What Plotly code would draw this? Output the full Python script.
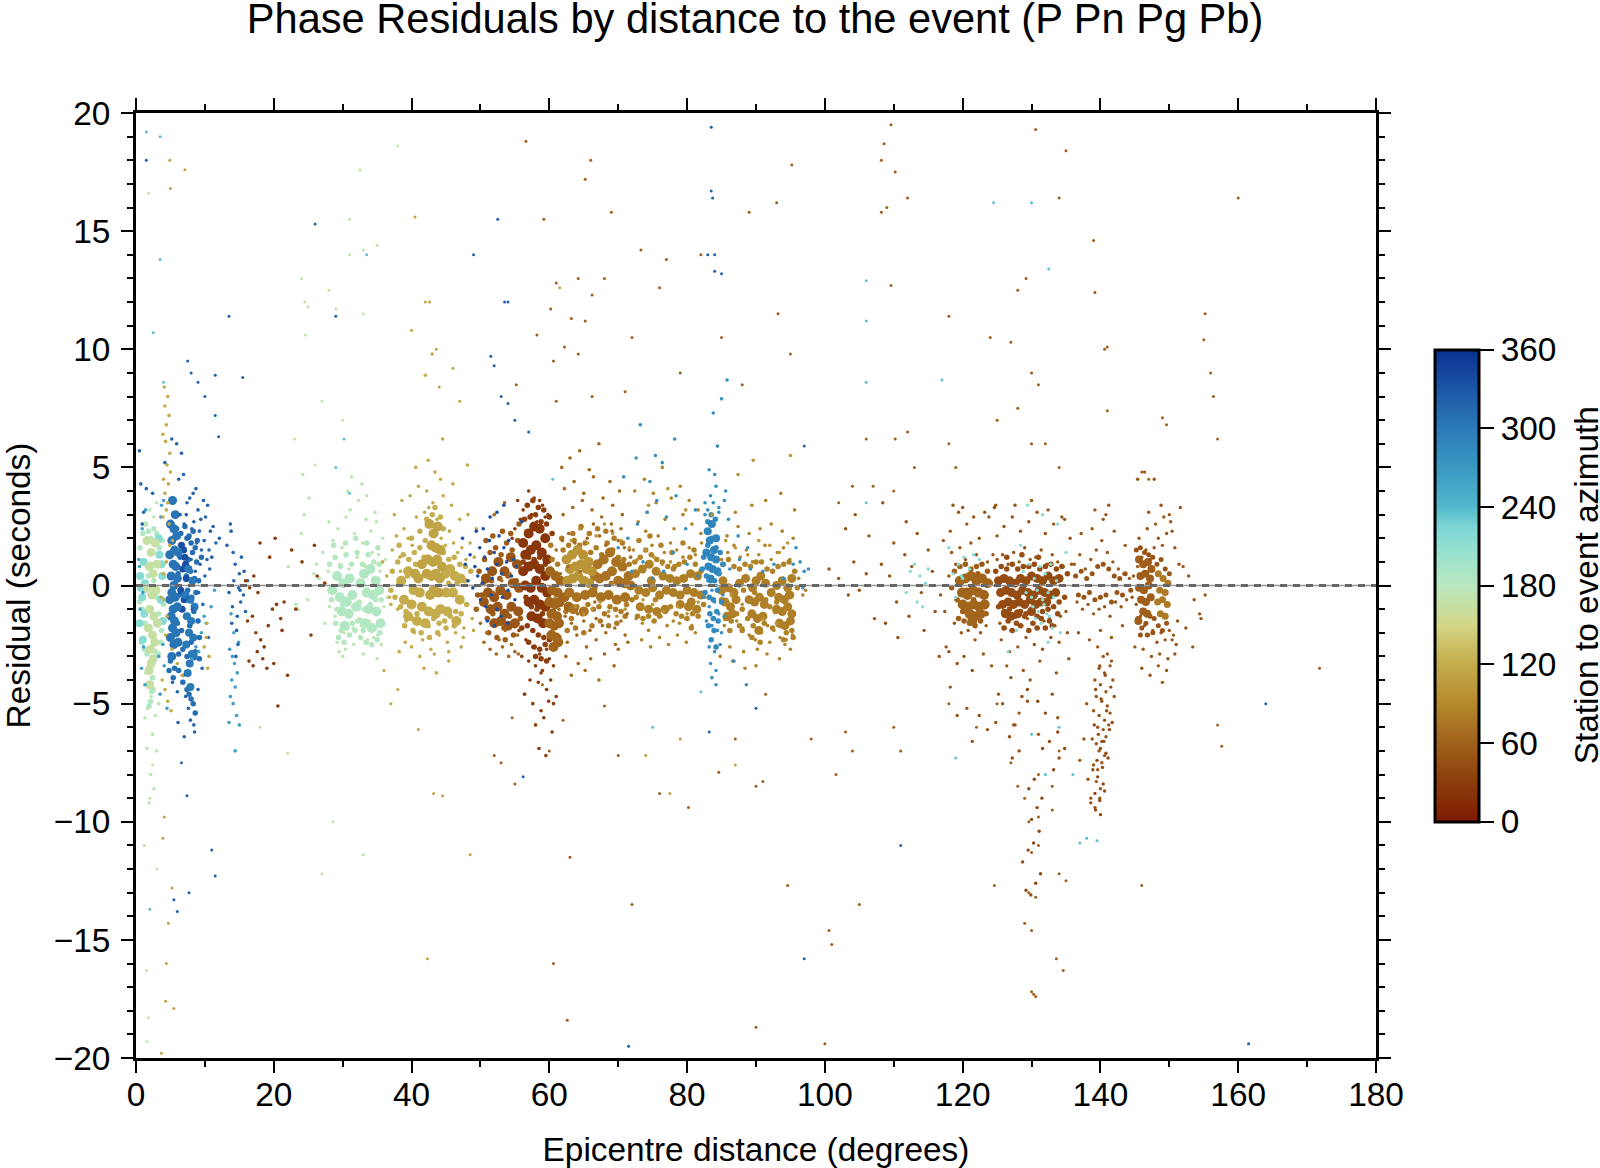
import plotly.graph_objects as go

# Azimuth colour ramp
ramp = [[0,"#7e1a02"],[0.083,"#8c3e0c"],[0.167,"#a0621b"],[0.25,"#b58a2c"],[0.333,"#c4ac4c"],
        [0.417,"#d3d687"],[0.5,"#b8e8c0"],[0.583,"#90e0d2"],[0.625,"#7bd5d5"],[0.667,"#52b6cc"],
        [0.75,"#3a98c2"],[0.833,"#2a7ab8"],[0.917,"#1c55a5"],[1,"#0a3090"]]

# ---- dense cores: distance, residual
c_pale_x=[1.6,2.2,2.8,1.9,2.5,3.0,1.7,2.3,2.9,2.0,2.6,1.8,2.4,3.1,2.1,2.7,2.2,1.9,2.5,2.0]
c_pale_y=[1.9,1.4,1.8,0.8,0.5,0.9,-0.1,-0.4,-0.2,-1.0,-1.3,-1.8,-2.1,-1.6,-2.7,-2.4,-3.3,-3.6,-3.1,-4.2]
c_teal_x=[0.6,1.1,3.4,3.8,0.9,3.6,1.2,0.5,3.9,3.3,1.0,0.7,3.7,1.3]
c_teal_y=[0.4,1.0,1.3,0.4,-0.5,-0.6,-1.2,-1.6,-1.5,2.0,-2.3,-0.1,0.9,0.1]
c_b1_x=[5.3,5.7,5.0,5.5,5.9,5.2,5.6,6.1,4.9,5.4,5.8,5.1,6.0,5.5,5.2,5.7,4.9,5.4,6.0,5.1,5.6,5.3,5.8,5.0,5.5,6.1,5.2]
c_b1_y=[3.6,3.0,2.6,2.4,2.1,1.9,1.5,1.4,1.3,0.9,0.8,0.4,0.3,0.0,-0.3,-0.5,-0.6,-1.0,-0.9,-1.3,-1.5,-1.8,-2.0,-2.2,-2.5,-2.4,-3.0]
c_b2_x=[7.6,8.2,7.2,7.9,8.5,7.4,8.0,7.7,8.3,7.3,8.1,7.8,7.5,8.4,7.9]
c_b2_y=[0.7,0.2,-0.4,-0.6,-0.9,-1.3,-1.5,-2.0,-2.2,-2.5,-2.9,-3.3,-3.7,-3.0,-4.3]
c_b3_x=[6.6,7.1,6.8,7.3,6.5,7.0,6.7,7.2,6.9]
c_b3_y=[1.7,1.2,0.7,0.3,-0.2,-0.6,-1.0,0.9,1.5]
c_h_x=[29.2,30.1,31.0,29.6,30.6,31.4,29.9,30.9,32.0,30.3,33.1,34.0,34.8,33.5,34.4,35.3,33.8,34.9,35.5,28.5,32.6,33.2,34.2]
c_h_y=[0.4,0.1,0.3,-0.5,-0.7,-0.4,-1.1,-1.2,-0.9,-1.7,0.5,0.7,0.2,-0.3,-0.4,-0.2,-1.0,-1.1,-1.6,-0.2,0.1,-1.6,-1.8]
c_i1_x=[42.6,43.2,43.8,42.9,43.5,44.2,42.4,43.1,43.7,44.4,42.2,42.9,43.5,44.1,43.2,42.7,43.9,41.5,41.0,40.5]
c_i1_y=[2.6,2.2,2.5,1.7,1.6,1.5,1.1,1.0,1.1,0.8,0.5,0.4,0.5,0.3,-0.2,-0.4,-0.3,0.9,0.3,0.5]
c_i2_x=[38.5,39.5,40.3,41.2,44.9,45.6,46.3,47.1,38.9,40.0,41.5,42.5,45.0,46.0,47.0,39.5,40.8,42.0,43.5,45.2,46.5,44.2]
c_i2_y=[0.2,0.6,-0.2,-0.3,0.5,0.7,0.4,0.3,-0.6,-0.8,-0.9,-1.1,-0.3,-0.3,-0.6,-1.3,-1.5,-1.6,-1.2,-1.1,-1.5,-1.0]
c_j1_x=[50.8,51.7,52.6,53.5,54.4,55.3,51.1,52.0,52.9,53.8,54.7,55.6,50.5,51.5,52.5,53.5,54.5,55.5,52.0,53.0,54.0,55.0]
c_j1_y=[0.3,0.6,1.0,0.6,1.2,0.9,-0.3,-0.5,-0.2,-0.4,0.1,-0.1,-0.7,-1.0,-0.9,-1.2,-0.9,-1.1,-1.6,-1.5,-1.7,-1.6]
c_j2_x=[56.2,57.0,57.8,58.6,59.4,56.5,57.3,58.1,58.9,59.7,56.2,57.0,57.8,58.6,59.4,56.5,57.3,58.1,58.9,59.7,57.0,57.8,58.6,59.4,57.4,58.3,59.1]
c_j2_y=[1.8,2.2,2.5,2.4,2.0,1.3,1.5,1.7,1.4,1.1,0.6,0.8,0.9,0.7,0.4,0.0,-0.1,0.2,-0.1,-0.3,-0.7,-0.6,-0.8,-0.9,-1.3,-1.4,-1.6]
c_j3_x=[60.1,60.9,61.6,60.4,61.2,60.0,60.8,61.5,60.3,61.1,60.0,60.7,61.4,60.3,61.0,60.6,61.3,62.2,62.8]
c_j3_y=[0.6,0.4,0.2,-0.2,-0.3,-0.7,-0.8,-0.7,-1.2,-1.3,-1.6,-1.7,-1.6,-2.1,-2.2,-2.6,-2.4,-0.5,-0.9]
c_k1_x=[62.5,63.3,64.1,64.9,65.7,63.0,63.8,64.6,65.4,66.2,62.6,63.4,64.2,65.0,65.8]
c_k1_y=[1.1,1.3,1.5,1.3,1.0,0.7,0.8,0.9,0.7,0.6,0.2,0.3,0.4,0.2,0.1]
c_k2_x=[67.0,67.9,68.8,69.7,70.6,71.5,67.3,68.2,69.1,70.0,70.9,71.8,62.9,64.0,65.2,66.3,67.5,68.6,69.8,71.0,66.6,63.5,65.0]
c_k2_y=[0.9,1.1,1.4,1.0,0.8,0.4,0.3,0.4,0.6,0.2,0.1,0.0,-0.3,-0.5,-0.4,-0.3,-0.5,-0.4,-0.6,-0.5,0.4,-1.0,-1.1]
c_l_x=[72.5,73.5,74.5,75.5,76.5,77.5,78.5,79.5,80.5,81.5,73.0,74.0,75.0,76.0,77.0,78.0,79.0,80.0,81.0,82.0,73.2,74.4,75.6,76.8,79.0,80.2,81.4,74.8,80.6]
c_l_y=[0.5,0.7,0.9,0.6,0.4,0.3,0.2,0.3,0.5,0.4,-0.2,-0.3,-0.1,-0.4,-0.2,-0.3,-0.4,-0.2,-0.3,-0.4,-0.9,-1.0,-1.1,-1.0,-0.8,-0.9,-1.0,0.2,-0.7]
c_m_x=[83.0,83.6,84.2,83.3,83.9,82.8,83.5,84.2,83.1,83.7,84.4,83.4]
c_m_y=[2.3,2.6,2.0,1.9,1.5,1.4,1.2,1.1,0.8,0.7,0.6,0.3]
c_n_x=[85.2,86.0,86.8,87.6,85.5,86.3,87.1,85.0,85.8,86.6,88.5,89.5,90.0,90.7,91.4,89.0,89.8,90.5,91.2,89.4,90.2,91.0,90.4,93.0,93.8,94.6,95.2,93.3,94.1,94.9,93.0,93.8,94.6,95.2,93.4,94.2,95.0,92.2]
c_n_y=[0.2,-0.1,-0.3,0.1,-0.7,-0.9,-0.6,-0.2,-1.3,-1.2,0.3,-0.1,0.2,0.4,0.1,-0.6,-0.7,-0.5,-0.8,-1.2,-1.4,-1.3,-1.9,0.0,0.2,-0.1,0.3,-0.5,-0.6,-0.4,-1.0,-1.1,-0.9,-1.2,-1.6,-1.7,-1.5,-0.3]
c_p_x=[119.6,120.4,121.2,122.0,122.8,123.6,119.9,120.7,121.5,122.3,123.1,120.0,120.8,121.6,122.4,123.2,121.0,121.8,122.6,121.4]
c_p_y=[0.2,0.3,0.4,0.2,0.3,0.1,-0.3,-0.4,-0.2,-0.3,-0.4,-0.8,-0.9,-0.8,-0.9,-0.8,-1.2,-1.3,-1.2,-1.5]
c_q_x=[125.2,126.0,126.8,127.6,128.4,129.2,130.0,130.8,131.6,132.4,133.2,134.0,125.5,126.3,127.1,127.9,128.7,129.5,130.3,131.1,131.9,132.7,133.5,125.8,126.6,127.4,128.2,129.0,129.8,130.6,131.4,132.2,126.2,127.0,128.0,130.0]
c_q_y=[0.2,0.3,0.2,0.1,0.3,0.2,0.4,0.3,0.2,0.4,0.2,0.3,-0.3,-0.2,-0.3,-0.4,-0.2,-0.3,-0.4,-0.2,-0.3,-0.4,-0.3,-0.8,-0.7,-0.8,-0.7,-0.8,-0.6,-0.8,-0.7,-0.7,-1.2,-1.3,-1.2,-1.1]
c_r_x=[145.6,146.2,146.9,147.4,145.8,146.5,147.2,145.6,146.3,147.0,145.9,146.6,147.3,146.2,146.8,145.5]
c_r_y=[1.1,0.9,1.0,0.7,0.4,0.5,0.3,-0.1,-0.2,0.0,-0.6,-0.7,-0.5,-1.1,-1.2,-1.5]
c_s_x=[148.4,149.1,149.8,148.6,149.4,148.3,149.0,149.7,148.7,149.4]
c_s_y=[0.5,0.3,0.1,-0.2,-0.3,-0.7,-0.6,-0.8,-1.2,-1.3]

# ---- thick halos round the cores
m_blue_x=[5.0,5.6,6.2,6.8,7.4,8.0,8.6,9.2,4.8,5.4,6.0,6.6,7.2,7.8,8.4,9.0,6.3,6.9,7.5,8.1,8.7,6.1,6.7,7.3,7.9,8.5,9.1,6.4,7.0,7.6,8.2,8.8,7.4,8.0,8.6,7.7,8.3,5.9,6.5,7.1,7.7,8.3,8.9,9.5,6.2,6.8,7.4,8.0,8.6,9.2]
m_blue_y=[-3.2,-3.5,-2.9,-2.7,-3.0,-2.4,-2.8,-2.2,-3.6,-3.9,-1.6,-1.9,-1.3,-1.7,-1.1,-1.5,-0.4,-0.6,-0.2,-0.5,-0.3,0.5,0.7,0.4,0.6,0.3,0.2,1.2,1.5,1.1,1.4,1.0,2.0,1.8,1.6,-4.6,-5.0,2.4,2.2,2.5,2.1,2.3,1.9,1.2,-3.6,-4.1,-4.4,-4.8,-5.4,-3.1]
m_pale_x=[0.6,1.0,1.4,1.8,2.2,2.6,3.0,3.4,3.8,0.8,1.2,1.6,2.0,2.4,2.8,3.2,3.6,4.0,1.4,1.8,2.2,2.6,3.0,0.5,0.9,1.3,3.3,3.7,1.7,2.3,2.1,1.9,2.5]
m_pale_y=[1.6,2.2,2.6,2.3,2.0,2.4,2.2,1.6,1.9,-2.4,-2.7,-2.9,-3.4,-3.9,-2.8,-2.9,-2.4,-0.8,-0.2,0.4,0.9,0.2,-0.5,-0.7,-1.0,-1.6,-1.2,-1.9,-4.2,-4.5,-4.9,-5.1,-4.4]
m_h_x=[28.1,28.9,29.7,30.5,31.3,32.1,32.9,33.7,34.5,35.3,28.4,29.2,30.0,30.8,31.6,32.4,33.2,34.0,34.8,35.6,29.0,29.8,30.6,31.4,32.2,33.0,33.8,34.6,35.4,29.4,30.2,31.0,31.8,32.6,33.4,34.2,35.0,28.7,30.4,31.9,33.5,35.1]
m_h_y=[0.9,1.2,0.8,1.3,0.9,1.4,0.9,1.3,1.0,0.9,-0.6,-1.0,-0.8,-0.6,-0.9,-0.7,-1.0,-0.8,-0.6,-0.6,-1.6,-1.9,-1.8,-1.6,-1.5,-1.9,-1.7,-1.8,-2.0,-2.2,-2.4,-2.1,-1.9,-2.2,-2.4,-2.5,-2.3,1.7,1.8,2.0,1.8,1.6]
m_i_x=[37.2,38.0,38.8,39.6,40.4,41.2,42.0,44.6,45.4,46.2,47.0,47.8,48.6,37.6,38.4,39.2,40.0,40.8,41.6,42.4,43.2,44.0,44.8,45.6,46.4,47.2,48.0,38.2,39.4,40.6,41.8,43.0,44.2,45.4,46.6,47.8,39.0,40.2,41.4,42.6,43.8,45.0,46.2,40.0,41.2,42.2,43.4,44.6,38.2,37.0]
m_i_y=[0.6,1.0,1.3,1.1,1.4,1.6,1.9,1.4,1.1,1.2,0.9,0.8,0.6,-0.5,-0.9,-1.1,-1.4,-1.2,-1.6,-1.7,-1.4,-1.6,-1.5,-1.3,-1.1,-1.2,-0.8,0.1,0.4,0.9,1.2,3.0,2.9,0.1,0.1,0.2,-1.7,-1.9,-2.0,-2.2,-2.0,-1.8,-1.7,2.0,2.3,2.8,3.3,2.4,1.7,-0.2]
m_j_x=[49.8,50.6,51.4,52.2,53.0,53.8,54.6,55.4,50.2,51.0,51.8,52.6,53.4,54.2,55.0,55.8,50.4,51.6,52.8,54.0,55.2,51.2,52.4,53.6,54.8,51.8,53.2,54.4,55.6,50.8,49.6,49.4]
m_j_y=[0.6,1.1,1.4,1.6,1.3,1.8,1.5,1.9,-0.4,-1.4,-1.2,-1.6,-1.8,-1.3,-1.7,-1.4,0.1,0.2,0.3,0.4,0.2,-2.0,-2.2,-2.3,-2.1,2.1,2.3,2.2,2.6,1.9,-0.4,-1.0]
m_d_x=[56.0,56.8,57.6,58.4,59.2,60.0,56.4,57.2,58.0,58.8,59.6,60.4,56.2,57.0,57.8,58.6,59.4,56.6,57.4,58.2,59.0,59.8,60.6,57.0,57.8,58.6,59.4,56.8,57.6,58.4,59.2,60.0,58.0,58.8,59.6]
m_d_y=[-1.8,-1.7,-1.9,-2.1,-2.2,-2.3,2.8,2.9,3.0,2.7,2.6,2.2,1.0,1.2,1.1,1.2,0.9,-0.5,-0.9,-1.0,-1.2,-0.9,-1.1,-2.4,-2.6,-2.7,-2.5,3.4,3.6,3.3,3.2,2.9,-3.0,-3.1,-3.2]
m_k_x=[60.4,61.2,62.0,62.8,63.6,64.4,65.2,66.0,66.8,67.6,68.4,69.2,70.0,70.8,71.6,60.8,61.6,62.4,63.2,64.0,64.8,65.6,66.4,67.2,68.0,68.8,69.6,70.4,71.2,72.0,61.4,62.6,63.8,65.0,66.2,67.4,68.6,69.8,71.0,63.4,64.6,65.8,67.0,68.2,69.4,70.6,60.2,61.8,66.6,69.0]
m_k_y=[1.1,0.9,1.5,1.7,1.9,1.7,1.8,1.4,1.6,1.3,1.8,1.5,1.2,1.1,0.9,-0.6,-0.8,-1.1,-1.4,-0.9,-1.2,-0.8,-1.0,-0.9,-1.2,-0.9,-1.0,-1.1,-0.8,-0.6,-2.2,-1.9,-1.8,-2.0,-1.7,-1.5,-1.7,-1.6,-1.3,2.2,2.5,2.2,2.4,2.3,2.0,1.8,1.7,2.0,-0.1,0.1]
m_l_x=[72.4,73.2,74.0,74.8,75.6,76.4,77.2,78.0,78.8,79.6,80.4,81.2,82.0,72.8,73.6,74.4,75.2,76.0,76.8,77.6,78.4,79.2,80.0,80.8,81.6,82.4,73.0,74.6,76.2,77.8,79.4,81.0,72.6,75.4,78.2,80.6]
m_l_y=[1.0,1.2,1.5,1.3,1.1,1.0,0.8,0.7,0.9,1.0,1.2,0.9,0.6,-1.3,-1.4,-1.3,-1.5,-1.3,-1.1,-0.9,-1.2,-1.3,-1.4,-1.2,-1.3,-0.8,1.9,2.1,1.7,1.4,1.8,1.5,-0.5,-0.6,0.8,-1.8]
m_c_x=[82.4,83.0,83.6,84.2,84.8,82.2,82.8,83.4,84.0,84.6,85.2,82.6,83.2,83.8,84.4,85.0,83.5,84.1,83.0,83.3,83.8,84.3,83.1,83.9,84.5,83.5,84.2]
m_c_y=[1.2,1.7,2.0,1.6,1.4,0.7,0.4,0.2,0.2,0.5,0.9,-0.3,-0.5,-0.6,-0.2,-0.7,3.0,2.8,2.7,-1.2,-1.4,-1.1,-1.7,-1.9,-1.5,-2.3,-2.6]
m_n_x=[85.2,86.0,86.8,87.6,88.4,89.2,90.0,90.8,91.6,92.4,93.2,94.0,94.8,95.6,85.6,86.4,87.2,88.0,88.8,89.6,90.4,91.2,92.0,92.8,93.6,94.4,95.2,85.0,86.6,88.2,89.8,91.4,93.0,94.6,88.0,89.4,90.6,92.4,94.0,95.4,96.0,86.2,87.6]
m_n_y=[0.9,1.1,0.8,0.7,0.9,0.8,1.0,1.0,0.7,0.6,0.8,0.9,1.0,0.6,-1.4,-1.5,-1.2,-1.0,-1.4,-1.7,-1.9,-1.6,-0.9,-1.1,-1.7,-2.0,-1.9,-0.6,-0.4,-0.2,-0.3,-0.6,-0.7,-0.4,-1.9,-2.2,-2.4,-1.8,-2.3,-2.2,-0.1,-1.9,-1.7]
m_p_x=[118.8,119.6,120.4,121.2,122.0,122.8,123.6,119.2,120.0,120.8,121.6,122.4,123.2,120.2,121.0,121.8,122.6,119.4,120.6,122.2,123.4,124.0,118.4]
m_p_y=[0.6,0.8,0.9,0.7,0.8,0.9,0.6,-0.6,-1.1,-1.0,-0.6,-1.1,-0.9,-1.5,-1.6,-1.7,-1.5,-1.4,-0.2,0.5,-1.2,0.1,-0.1]
m_q_x=[124.8,125.6,126.4,127.2,128.0,128.8,129.6,130.4,131.2,132.0,132.8,133.6,134.4,135.2,125.2,126.0,126.8,127.6,128.4,129.2,130.0,130.8,131.6,132.4,133.2,134.0,134.8,125.4,126.6,127.8,129.0,130.2,131.4,132.6,133.8,126.0,127.2,128.4,129.6,130.8,132.0,133.0,126.4,128.6,131.0]
m_q_y=[0.6,0.8,0.7,0.9,0.7,0.8,0.8,0.9,0.7,0.8,0.9,0.7,0.8,0.5,-0.9,-1.1,-1.0,-1.3,-1.1,-1.2,-1.0,-1.3,-1.1,-1.0,-0.9,-0.7,-0.5,-0.3,-1.5,-1.6,-1.3,-1.6,-1.4,-1.5,-1.2,-1.8,-1.9,-1.7,-1.9,-1.8,-1.8,-1.7,1.2,1.3,1.2]
m_e_x=[136.4,137.2,138.0,138.8,139.6,140.4,141.2,142.0,142.8,143.6,136.8,137.6,138.4,139.2,140.0,140.8,141.6,142.4,143.2,144.4,145.2,145.8,146.4,147.0,147.6,148.2,148.8,149.4,150.0,145.4,146.0,146.6,147.2,147.8,148.4,149.0,149.6,145.8,146.8,147.6]
m_e_y=[0.4,0.6,0.3,0.5,0.8,0.9,0.7,0.4,0.3,0.5,-0.4,-0.5,-0.3,-0.6,-0.5,-0.4,-0.7,-0.3,-0.4,-0.2,1.5,1.6,1.4,1.3,1.2,0.9,1.1,0.7,0.5,-1.4,-1.8,-1.6,-1.3,-1.4,-1.7,-1.9,-1.6,-2.1,-2.1,-2.0]

# ---- individual scattered stations
d_blue_x=[0.5,0.7,1.5,2.4,1.1,0.9,4.2,5.2,6.2,6.9,7.4,7.8,8.3,8.7,9.0,9.4,9.8,10.1,10.4,10.8,11.2,11.6,12.1,6.4,7.0,7.7,8.4,9.2,9.9,10.6,5.9,6.6,7.3,8.1,8.8,9.5,10.3,11.0,8.0,8.6,9.3,10.0,10.7,7.5,8.2,9.1,9.7,6.1,7.2,5.3,6.0,6.9,7.6,8.4,9.0,9.6,10.5,7.0,7.9,8.5,13.2,13.8,14.4,15.0,15.6,14.0,14.7,15.3,13.5,14.2,14.9,15.7,13.9,14.6,15.2,15.9,16.2,14.1,13.7,15.1,14.8,14.5]
d_blue_y=[5.7,4.3,4.1,3.9,3.1,2.6,5.2,6.2,4.5,4.7,3.5,3.7,3.9,4.1,3.2,2.8,3.6,2.9,3.4,2.3,2.5,1.8,2.0,3.0,2.6,2.0,2.7,2.3,1.9,1.5,6.0,5.6,3.0,2.4,1.8,1.5,1.1,1.2,1.1,0.6,0.9,0.4,0.7,-0.5,-1.0,-0.3,-0.8,-5.8,-4.7,-4.1,-4.5,-3.8,-5.2,-5.9,-4.4,-3.5,-2.2,-6.4,-5.7,-6.2,1.7,2.3,0.9,0.5,-0.4,-0.9,-1.3,1.2,-0.3,0.2,-0.1,0.6,-1.6,-1.9,-0.7,-1.1,0.2,1.4,2.6,-0.2,-2.5,-3.0]
d_cyan_x=[0.4,0.9,1.4,3.6,4.0,0.6,1.1,3.3,3.9,0.8,1.3,4.1,3.5,0.5,1.0,3.7,13.6,14.0,14.3,14.7,13.9,14.4,13.7,14.1,14.6,15.0,14.2,14.9,13.8,13.5,14.4,4.5,8.7,9.5,10.2,8.1,9.1,10.9,9.9,11.4]
d_cyan_y=[1.1,2.4,3.2,2.9,3.6,-1.0,-2.6,-3.0,-2.5,-3.5,-4.2,-3.4,-4.6,0.8,-0.3,3.4,-2.7,-3.0,-3.3,-3.7,-4.0,-4.3,-4.7,-5.0,-5.5,-5.9,-2.0,-2.4,-1.2,-5.8,-7.0,-5.2,-2.6,-2.0,-1.6,-3.1,-2.8,-0.9,-1.3,-0.2]
d_lpale_x=[1.5,2.0,2.6,3.0,2.2,1.7,2.8,1.3,3.3,2.4,1.6,2.1,3.0,2.6,1.9,1.4,22.1,22.6,24.0,24.4,25.1,24.2,23.5,26.2,27.1,27.9,28.3,28.6,29.3,29.9,30.5,31.1,31.7,32.3,32.9,33.4,34.1,34.7,35.2,35.8,36.2,28.9,30.2,31.5,32.7,33.6,34.5,35.6,28.1,29.2,30.4,31.6,32.5,33.9,35.1,36.0,29.6,30.9,32.1,33.3,34.3,35.4,30.7,31.3,32.8,33.5,34.9,27.4,26.6,25.8,24.9,23.2,36.5,35.0,33.0,30.0,29.5,28.0]
d_lpale_y=[2.6,3.2,2.9,3.5,-4.7,-5.2,-5.5,-5.6,-5.0,-6.3,-6.9,-8.0,-7.0,-8.6,-9.2,-3.7,0.8,1.5,2.2,3.0,3.7,4.7,-1.0,0.9,1.4,0.6,-0.3,1.9,2.4,1.6,2.9,3.2,2.2,3.6,1.8,2.8,2.3,3.1,1.3,2.0,1.1,-1.3,-2.0,-1.8,-1.7,-2.3,-2.2,-2.5,-0.9,-2.4,-2.7,-2.5,-1.4,-1.5,-2.1,-0.9,0.9,0.7,1.2,0.8,1.4,0.6,4.0,4.6,4.3,3.8,2.7,-1.6,0.3,0.5,-0.6,-0.8,-0.5,-3.1,-2.9,-3.0,-2.8,2.7]
d_tan_x=[4.1,4.6,4.2,4.8,4.4,3.9,4.3,4.9,4.5,5.0,4.0,4.7,4.2,4.6,4.4,3.9,4.8,4.1,4.5,4.3,5.2,6.0,6.7,9.9,10.6,3.8,4.2,4.6,5.1,3.6,4.0,4.4,4.9,5.3,10.3,10.4,10.2,37.2,37.8,38.3,38.9,39.5,40.1,40.7,41.3,41.9,42.5,43.1,43.7,44.3,44.9,45.5,46.1,46.7,47.3,47.9,48.5,49.1,37.5,38.6,39.8,41.0,42.2,43.4,44.6,45.8,47.0,48.2,49.4,38.0,39.2,40.4,41.6,42.8,44.0,45.2,46.4,47.6,48.8,36.8,39.1,41.2,43.3,45.4,47.5,36.4,38.2,40.0,41.8,43.6,45.4,47.2,49.0,40.6,42.4,44.2,46.0,48.1,35.8,37.0,38.4,42.0,43.0,44.5]
d_tan_y=[8.4,8.0,7.6,7.2,6.8,6.4,6.1,5.6,5.1,4.8,4.5,4.3,3.9,3.5,3.2,2.9,2.6,-0.6,-1.3,-2.1,-2.7,-3.3,-3.8,-2.6,-3.0,-4.0,-4.4,-4.9,-5.3,-0.5,0.5,1.0,1.7,1.9,-1.6,-3.5,-2.2,1.5,2.1,1.2,2.4,2.0,1.7,2.9,2.3,3.1,3.3,3.5,2.8,2.0,1.7,2.3,1.8,1.4,1.6,1.1,1.8,1.2,3.0,3.6,3.8,4.2,4.0,4.8,3.8,3.4,2.8,3.0,2.4,-1.0,-1.5,-2.0,-2.3,-2.7,-2.1,-2.4,-2.0,-1.8,-1.4,-0.5,-2.4,-3.0,-2.9,-2.8,-2.2,0.4,-2.8,-2.6,-3.5,-3.7,-3.2,-2.6,-1.9,5.0,5.3,4.5,4.3,5.1,1.0,-0.8,0.6,8.9,9.8,6.2]
d_blue2_x=[47.8,48.5,49.2,49.9,50.6,51.3,52.0,52.7,53.4,54.1,54.8,48.2,48.9,49.6,50.3,51.0,51.7,52.4,53.1,53.8,54.5,55.2,50.0,50.8,51.6,52.4,53.2,54.0,51.0,52.0,53.0,54.0,55.0,56.0,50.4,51.4,52.4,53.4,49.4,47.4]
d_blue2_y=[0.9,1.3,0.8,1.6,1.2,1.9,1.4,2.1,1.6,1.9,1.1,0.2,-0.1,0.4,0.1,0.7,0.3,0.9,0.5,1.0,0.4,0.8,-0.6,-0.9,-0.4,-1.0,-0.5,-0.2,-1.5,-1.7,-1.3,-1.6,-0.6,2.7,2.4,2.9,3.1,3.4,2.3,2.0]
d_red_x=[15.9,16.5,17.1,17.7,16.2,16.9,17.4,18.1,18.6,19.2,19.8,20.4,21.0,21.5,16.4,17.0,17.6,18.4,19.0,20.0,20.6,21.2,22.0,23.2,25.4,26.3,27.4,18.0,19.4,20.2,22.6,24.1,25.9,55.0,55.8,56.6,57.4,58.2,59.0,59.8,55.4,56.2,57.0,57.8,58.6,59.4,54.6,55.6,56.6,57.6,58.6,59.6,56.0,57.0,58.0,59.0,60.0,60.6,57.2,58.4,59.6,56.4,57.6,58.8,60.2,61.0,58.0,59.2,60.4,58.5,59.5,60.6,58.8,59.9]
d_red_y=[0.2,-0.1,0.4,-0.3,-1.5,-1.3,-2.0,-2.3,-2.6,-1.7,-1.0,-0.8,-1.4,-0.7,-3.2,-3.4,-2.8,-3.1,-3.5,-3.3,-5.1,-1.9,-3.8,-1.0,-2.1,0.4,0.1,1.8,1.2,2.0,1.5,1.0,1.7,2.4,2.8,2.3,3.0,2.7,3.4,3.0,3.6,3.2,4.0,3.7,3.6,2.9,2.0,-1.9,-2.3,-2.6,-2.9,-2.7,-3.0,-3.2,-3.4,-3.6,-3.1,-3.4,-4.0,-4.1,-4.4,-4.6,-5.0,-5.3,-4.0,-4.7,-5.9,-5.6,-6.2,-6.9,-7.2,-5.0,-3.7,-4.9]
d_br_x=[50.0,50.9,51.8,52.7,53.6,54.5,55.4,50.5,51.4,52.3,53.2,54.1,55.0,49.5,50.7,51.9,53.1,54.3,52.0,53.5,55.5,61.0,61.9,62.8,63.7,64.6,65.5,66.4,67.3,68.2,69.1,70.0,70.9,71.8,61.4,62.3,63.2,64.1,65.0,65.9,66.8,67.7,68.6,69.5,70.4,71.3,62.0,63.4,64.8,66.2,67.6,69.0,70.4,61.2,62.6,64.0,65.4,66.8,68.2,69.6,71.0,62.2,63.6,65.0,66.4,67.8,69.2,70.6,61.8,63.0,64.4,65.8,67.2,68.8,70.2,71.6,62.4,64.2,66.0,68.0,70.0,63.2,65.2,67.2,69.4,71.4,61.6,62.7,64.5,66.6]
d_br_y=[-1.6,-2.0,-1.7,-2.3,-1.9,-2.5,-2.1,-2.4,-2.7,-2.9,-2.6,-3.0,-2.8,-1.0,-0.5,-0.3,0.2,0.5,3.0,3.5,-2.9,1.5,1.9,2.2,1.8,2.4,2.0,2.6,2.1,1.7,2.3,1.9,1.6,1.2,-1.0,-1.3,-1.6,-1.2,-1.5,-1.9,-1.4,-1.7,-1.3,-1.8,-1.5,-1.2,3.0,3.3,3.6,3.2,2.9,2.6,2.4,-2.2,-2.4,-2.1,-2.6,-2.3,-2.0,-2.5,-2.1,4.1,4.4,3.9,4.6,3.7,3.4,3.0,5.0,5.4,5.7,4.9,6.0,4.4,4.0,1.5,-3.0,-3.3,-3.1,-2.9,-2.7,-3.8,-3.6,-4.0,-3.4,-2.4,0.5,0.8,0.6,-0.7]
d_ol_x=[72.2,73.1,74.0,74.9,75.8,76.7,77.6,78.5,79.4,80.3,81.2,82.1,72.6,73.5,74.4,75.3,76.2,77.1,78.0,78.9,79.8,80.7,81.6,72.9,74.2,75.5,76.8,78.1,79.4,80.7,82.0,73.4,74.7,76.0,77.3,78.6,79.9,81.2,72.4,73.8,75.1,76.4,77.7,79.0,80.3,81.6,85.0,85.9,86.8,87.7,88.6,89.5,90.4,91.3,92.2,93.1,94.0,94.9,95.8,85.4,86.3,87.2,88.1,89.0,89.9,90.8,91.7,92.6,93.5,94.4,95.3,85.8,87.4,89.0,90.6,92.2,93.8,95.4,86.2,88.2,90.2,92.0,94.2,96.2,84.8,86.6,88.4,90.0,91.6,93.4,95.0,87.0,89.4,91.4,93.6,95.6,96.8,97.2]
d_ol_y=[1.5,1.9,2.3,1.7,2.1,1.4,1.8,1.5,1.2,1.6,1.3,1.8,-1.4,-1.6,-1.9,-1.5,-1.3,-1.7,-1.5,-1.6,-1.4,-1.7,-1.3,2.7,3.1,3.5,2.8,2.4,3.0,2.6,2.2,-2.3,-2.6,-2.2,-2.5,-2.1,-2.4,-2.0,4.0,4.5,3.9,5.0,3.7,4.2,3.6,3.2,1.1,1.4,1.7,1.2,1.5,1.0,1.3,1.7,1.1,1.4,1.6,1.1,0.6,-1.7,-1.9,-1.5,-1.8,-2.1,-2.3,-2.0,-1.7,-1.9,-2.2,-2.3,-2.1,2.1,2.5,2.2,2.4,2.6,2.3,2.0,-2.6,-2.8,-2.7,-2.4,-2.5,0.3,-3.0,-3.2,-3.5,-3.4,-2.9,-3.1,-2.7,3.1,3.4,3.6,3.9,3.2,-0.4,-0.2]
d_tan2_x=[63.2,64.4,65.6,66.8,68.0,69.2,70.4,71.6,72.8,74.0,75.2,76.4,77.6,63.8,65.0,66.2,67.4,68.6,69.8,71.0,73.6,75.0,76.6,78.6,80.0,81.6,82.6,85.6,87.0,88.8,90.4,92.0,93.4,94.6,86.4,88.0,91.0,93.0,74.4,77.2,79.8,83.6,87.4,89.6,95.0]
d_tan2_y=[1.9,2.4,1.8,2.1,2.6,2.2,1.9,1.6,1.1,1.5,1.2,0.9,1.0,-0.9,-1.2,-1.0,-0.7,-1.1,-1.3,-1.0,-0.6,-0.8,-1.1,-0.9,-1.2,-0.7,-0.5,1.9,1.6,1.3,1.9,1.7,1.4,1.8,-0.4,-0.8,-1.4,-1.6,3.4,4.1,3.2,3.0,4.7,5.3,5.5]
d_bl3_x=[70.0,71.4,72.8,74.2,75.6,77.0,78.4,79.8,81.2,82.6,84.6,86.0,87.4,88.8,72.0,73.6,75.0,76.6,78.0,80.0,81.6,82.2,83.0,83.6,84.2,84.8,85.4,82.4,83.2,84.0,84.6,85.2,82.8,83.6,84.4,85.0,83.2,84.0,84.8,83.4,84.2,85.4,86.2,87.6,89.2,91.0,92.6,94.0,95.4,96.4,97.0,97.6,96.8,95.8,83.0,83.8,84.6,85.4,82.6,83.4,84.2,85.6,84.0,83.2,72.6,74.6,76.4,78.2,70.8,73.2,75.4,86.8,88.6,84.4,83.8,85.0,85.8,84.2,83.6]
d_bl3_y=[1.6,2.0,2.6,3.1,3.6,2.9,3.8,2.4,3.2,3.5,3.3,2.8,2.1,1.6,0.6,1.0,0.3,0.6,1.4,0.9,0.4,0.7,0.2,-0.2,0.0,0.5,0.9,-0.5,-0.9,-0.7,-1.2,-0.4,-1.5,-1.7,-1.9,-2.0,-2.6,-2.8,-2.5,-3.3,-3.6,-1.3,0.7,1.1,0.7,0.6,0.9,0.3,0.9,1.0,0.6,0.7,-0.1,1.6,3.2,3.5,3.1,3.6,3.0,3.8,4.2,4.0,4.7,4.9,5.4,4.4,5.2,6.2,4.6,6.8,5.5,-3.2,-4.2,5.9,7.3,7.9,8.7,-4.2,-3.9]
d_sep_x=[100.6,102.0,103.4,104.2,105.0,106.0,107.2,108.2,109.4,110.4,111.6,112.6,114.0,115.6,116.8,118.0,103.0,104.4,106.4,108.4,110.0,111.8,113.4,115.0,117.2,108.8,110.6,112.2,114.4,116.0,117.6,118.4,119.0,119.6,120.4,121.2,122.0,122.8,123.6,124.4,118.8,119.8,120.8,121.8,122.6,123.4,118.2,119.4,120.6,122.4,123.8,124.8,118.0,119.2,120.2,121.4,123.0,124.2,117.4,118.6,120.0,121.6,123.2,116.6,125.0,125.8,126.6,127.4,128.2,129.0,129.8,130.6,131.4,132.2,133.0,133.8,134.6,125.4,126.2,127.0,127.8,128.6,129.4,130.2,131.0,131.8,132.6,133.4,134.2,135.0,135.8,125.0,126.0,127.2,128.4,129.6,130.8,132.0,133.2,134.4,135.6,125.6,126.8,128.0,129.2,130.4,131.6,132.8,134.0,135.2,124.6,127.6,130.0,132.4,134.8,126.4,128.8,131.2,133.6,129.8,127.0,125.8,129.4,133.0,135.4,124.8,128.2,131.0,125.2,127.4,133.8,122.4,123.6,120.6,121.4,119.2,118.2]
d_sep_y=[0.7,0.3,-0.4,1.0,-0.2,0.5,-1.4,0.9,0.4,-0.7,1.3,0.8,-0.3,0.6,-0.4,0.4,2.4,3.0,2.1,3.5,1.8,2.7,2.2,1.5,1.9,-1.6,-2.2,-1.3,-1.9,-1.1,-2.6,1.4,0.9,1.6,1.1,1.8,1.3,0.9,1.0,1.3,-1.6,-2.0,-1.9,-2.3,-2.0,-1.7,2.3,3.1,2.6,2.0,2.9,3.4,-2.8,-3.3,-3.0,-3.6,-2.9,-3.4,-1.1,3.4,3.3,2.9,3.1,-3.0,1.1,1.3,0.9,1.4,1.0,1.6,1.1,1.2,1.5,0.9,1.3,1.0,0.8,-1.6,-1.8,-1.9,-1.6,-1.7,-1.4,-1.6,-1.8,-1.5,-1.4,-1.7,-1.3,-1.1,0.9,2.1,2.5,2.9,2.3,2.7,3.1,2.2,2.6,2.9,2.0,-2.3,-2.8,-2.6,-2.2,-2.5,-2.7,-2.2,-2.4,-2.0,3.3,3.4,3.6,3.2,2.8,-3.4,-3.6,-3.2,-3.7,-4.0,-3.9,-5.0,-4.9,-4.6,-3.1,-5.8,-5.4,-6.3,-4.6,-5.9,-5.6,-5.5,-6.1,-5.2,-6.6,-5.5,-4.3]
d_east_x=[136.2,137.0,137.8,138.6,139.4,140.2,141.0,141.8,142.6,143.4,144.2,136.6,137.4,138.2,139.0,139.8,140.6,141.4,142.2,143.0,143.8,137.2,138.8,140.4,142.0,143.6,136.8,138.4,140.0,141.6,143.2,139.2,140.8,141.2,139.6,140.4,141.0,141.6,139.8,140.6,141.4,139.2,140.0,140.8,141.8,139.4,140.2,141.0,142.0,139.0,139.8,140.6,141.4,139.6,140.4,141.2,138.8,139.4,140.2,140.8,139.8,140.6,139.0,139.6,140.2,139.4,140.0,138.2,138.6,139.2,139.9,137.6,137.0,138.0,144.8,145.4,146.0,146.6,147.2,147.8,148.4,149.0,149.6,150.2,150.8,151.4,144.6,145.2,145.8,146.4,147.0,147.6,148.2,148.8,149.4,150.0,150.6,151.2,145.0,146.2,147.4,148.6,149.8,151.0,145.6,146.8,148.0,149.2,150.4,152.0,152.8,153.6,154.4,155.2,146.0,147.2,148.4,149.6,150.8,152.4,153.4,154.6,147.0,148.8,150.0,151.6,145.4,149.0,146.4,147.8,150.4]
d_east_y=[0.9,1.3,0.7,1.1,1.5,1.9,1.4,1.0,0.7,0.5,0.3,-0.7,-1.0,-0.8,-1.2,-1.0,-0.9,-1.3,-0.7,-0.9,-0.6,2.2,2.4,2.8,2.3,1.7,-2.0,-2.3,-1.9,-2.2,-1.7,3.2,3.0,3.4,-2.6,-3.0,-2.9,-3.2,-3.5,-3.7,-3.4,-4.0,-4.2,-4.5,-4.0,-4.7,-4.9,-5.1,-4.7,-5.3,-5.5,-5.7,-5.4,-6.0,-6.1,-5.9,-6.5,-6.7,-6.6,-6.4,-7.0,-7.2,-7.6,-7.8,-7.5,-8.3,-8.6,-8.2,-9.0,-9.4,-9.0,-6.5,-7.4,-5.0,0.4,0.8,1.2,1.5,1.1,1.6,2.0,1.7,2.2,2.7,1.6,0.9,-0.5,-0.8,-1.3,-1.7,-2.1,-1.9,-2.4,-2.0,-2.3,-1.9,-2.1,-1.5,-2.6,-2.7,-3.0,-2.9,-3.1,-2.5,2.0,2.4,2.6,2.9,2.3,0.8,0.4,-0.6,-1.2,-0.4,-3.5,-3.8,-3.4,-3.6,-2.9,-1.8,-2.6,-1.4,3.1,3.4,3.0,3.3,4.5,-4.1,4.8,4.5,-2.3]
d_plume_x=[139.9,140.7,141.5,139.3,140.1,140.9,141.7,139.1,139.7,140.5,141.3,140.0,140.8,139.5,140.3,141.1,138.9,139.6,140.4,139.2,139.9,140.6,138.6,139.3,140.0,129.2,129.9,130.6,131.3,128.7,129.5,130.3,131.1,130.0,130.8,131.5,129.6,130.4,133.2,134.0,134.8,132.6,133.8,128.2,127.2,126.8,127.6,132.0,131.6,130.9,129.4,128.6]
d_plume_y=[-3.4,-3.8,-4.3,-4.4,-4.8,-5.3,-5.8,-5.9,-6.3,-6.6,-6.1,-6.9,-7.1,-7.4,-7.7,-7.3,-7.8,-8.1,-8.4,-8.8,-9.1,-8.7,-9.2,-9.5,-9.7,-12.9,-13.1,-12.6,-12.2,-11.7,-11.2,-10.9,-10.4,-9.9,-9.4,-9.0,-8.6,-8.2,-7.8,-7.3,-6.9,-6.6,-6.2,-7.0,-7.3,-6.4,-5.9,-5.4,-6.9,-4.9,-4.4,-4.7]
d_tl_x=[113.0,113.8,114.6,112.4,111.8,113.4,114.2,115.0,118.6,119.4,120.2,121.0,119.0,120.0,121.6,122.4,118.0,119.8,128.8,129.6,130.4,131.2,132.0,132.8,133.6,129.2,130.0,130.8,131.6,132.4,133.2,130.2,131.0,131.8,132.6,130.6,131.4,132.2,133.0,128.4,134.2,126.6,127.8,135.0,129.4,131.6,133.8,132.4]
d_tl_y=[0.9,0.4,0.1,0.6,-0.3,-0.7,-0.9,0.7,0.5,0.9,1.2,0.7,-0.5,0.3,1.3,1.1,1.6,0.4,0.6,0.9,0.3,0.8,0.5,0.9,0.2,-0.3,-0.5,-0.2,-0.6,-0.3,-0.5,-0.9,-1.1,-0.8,-1.3,-1.4,-1.6,-1.2,-1.8,1.7,-2.0,-2.8,-1.9,1.4,3.4,3.0,2.6,-2.4]
d_or_x=[56.6,66.0,65.2,69.0,59.2,73.3,77.0,82.0,66.2,64.2,61.0,68.0,76.0,60.2,63.2,65.2,72.0,58.2,62.2,64.2,60.6,85.0,89.0,93.0,95.2,95.0,93.2,88.0,79.0,71.0,66.2,61.0,55.2,108.6,109.6,108.2,110.2,108.2,109.0,112.0,109.6,106.0,110.2,112.0,118.0,119.0,113.0,110.0,104.0,107.0,102.0,130.6,135.0,134.0,139.0,139.2,141.0,140.6,128.0,129.2,124.0,127.0,130.0,131.0,128.0,125.0,130.0,132.0,134.0,118.0,160.0,155.2,155.0,156.0,156.4,149.0,149.6,157.0,141.0,146.0,147.0,130.0,130.6,130.3,134.6,133.6,129.0,130.0,129.6,130.6,135.0,134.0,130.0,131.0,129.6,131.0,133.0,129.0,128.0,127.0,131.0,133.0,134.0,146.0,124.6,60.6,63.0,62.6,100.0,101.0,100.6,105.0,90.0,94.6,90.0,91.0,72.0,55.0,52.0,53.0,60.0,101.6,98.0,103.0,104.0,110.0,111.0,118.0,125.0,122.0,157.0,157.6,171.8,91.4,87.0,80.2,76.0,70.0,84.6,68.0,54.6,59.0,62.0]
d_or_y=[18.8,18.0,17.2,15.8,15.5,14.2,13.8,14.0,12.3,13.0,12.8,13.0,12.6,11.7,11.3,11.2,10.5,10.6,10.1,9.8,9.5,10.5,15.8,16.2,17.8,9.8,11.5,8.5,9.0,8.2,8.0,7.8,8.5,18.7,19.5,18.0,17.5,15.8,16.0,16.4,12.7,6.2,6.2,6.5,6.0,5.0,5.0,4.0,4.2,4.2,3.5,19.3,18.4,16.4,14.6,12.4,10.1,10.0,12.5,13.0,10.5,10.3,9.0,8.5,7.5,7.0,6.0,6.0,5.0,11.4,16.4,11.5,10.4,9.0,8.0,7.1,6.8,6.2,7.4,4.8,4.5,-17.2,-17.4,-17.3,-16.3,-15.8,-14.3,-14.6,-13.0,-13.2,-12.5,-12.2,-11.3,-11.0,-10.0,-9.8,-9.5,-9.0,-8.5,-7.5,-8.0,-8.5,-7.0,-12.7,-12.7,-16.0,-11.5,-18.4,-19.4,-15.2,-14.6,-13.5,-18.7,-12.7,-8.5,-8.3,-13.5,-8.4,-7.2,-7.5,-7.0,-8.0,-6.5,-6.2,-7.0,-6.0,-7.0,-5.0,-5.0,-6.0,-5.9,-6.8,-3.5,-4.6,-6.5,-9.4,-8.8,-7.2,-7.9,-5.1,-5.6,-4.2,-5.7]
d_ot_x=[4.9,7.1,5.0,4.4,5.5,4.3,3.7,4.7,5.2,4.1,3.9,61.5,37.0,40.5,42.0,42.6,40.0,44.0,41.0,43.2,48.5,42.3,44.5,36.0,38.0,43.6,47.0,46.0,77.5,87.0,74.0,79.0]
d_ot_y=[18.0,17.6,16.8,-16.0,-17.9,-17.6,-19.8,-14.3,-12.8,-9.8,-10.7,12.6,-5.0,15.6,12.0,12.0,10.8,8.4,-6.1,-8.8,-11.4,-15.8,-8.9,-3.6,-4.4,10.0,7.8,9.2,-8.8,-7.6,-7.2,-6.5]
d_op_x=[1.8,1.5,1.8,1.6,3.0,2.0,24.0,24.5,25.0,29.0,24.6,31.0,32.5,38.0,35.0,31.0,33.0,28.0,33.0,27.0,30.0,28.6,27.0,33.0,22.0,18.0,26.0,23.0,2.4,1.2]
d_op_y=[16.6,-16.3,-18.3,-19.3,-12.0,-9.0,13.0,12.0,11.8,11.7,10.6,15.5,17.6,18.6,14.4,14.0,14.2,12.5,11.5,7.8,7.0,-10.0,-12.2,-11.4,-7.1,-6.0,5.1,6.2,-7.6,-11.0]
d_ob_x=[1.5,5.5,7.7,6.0,11.0,11.5,13.5,15.5,11.5,7.5,8.0,9.0,10.0,11.5,12.0,26.0,29.0,49.0,52.5,53.5,54.0,51.5,52.0,53.0,54.0,55.0,57.0,83.5,83.5,83.7,84.0,83.0,84.0,85.0,97.0,71.5,161.5,164.0,90.0,97.0,111.0,7.4,6.6,56.2,83.2]
d_ob_y=[18.0,-13.3,-13.0,-13.8,-11.2,-12.3,11.4,8.8,8.9,9.5,9.0,8.6,8.0,7.2,6.3,15.3,11.4,14.0,15.5,12.0,12.0,9.7,9.3,8.0,7.7,7.0,6.5,19.4,16.7,16.4,14.0,14.0,13.3,13.2,-15.8,-19.5,-19.4,-5.0,-5.2,5.9,-11.0,-8.9,-7.5,-8.1,-6.2]
d_oc_x=[1.5,3.5,3.5,2.5,4.0,124.5,130.0,132.5,106.0,106.0,106.0,117.0,119.0,136.0,138.0,139.5,137.0,132.0,130.0,134.0,2.0,75.0,82.0,106.0,60.5,30.2,29.0,33.5,31.0]
d_oc_y=[19.2,19.0,13.8,10.7,8.6,16.2,16.2,13.4,12.9,11.2,8.6,8.7,-7.3,-8.0,-10.7,-10.8,-10.9,-8.0,-6.3,-6.0,-13.7,-6.0,-4.5,3.5,4.5,6.2,5.0,14.0,3.9]

sets = [
 (m_pale_x,m_pale_y,185,5.5),(c_teal_x,c_teal_y,215,8),(c_pale_x,c_pale_y,165,9),(m_blue_x,m_blue_y,310,5.5),(c_b3_x,c_b3_y,335,7),(c_b2_x,c_b2_y,300,8),(c_b1_x,c_b1_y,305,9),
 (m_h_x,m_h_y,182,5.5),(c_h_x,c_h_y,185,10),(m_i_x,m_i_y,122,5.5),(c_i2_x,c_i2_y,120,10),(c_i1_x,c_i1_y,112,10),(m_j_x,m_j_y,55,5.5),(c_j1_x,c_j1_y,50,10),(m_d_x,m_d_y,30,5.5),(c_j2_x,c_j2_y,24,10),
 (m_k_x,m_k_y,78,5.5),(c_j3_x,c_j3_y,62,10),(c_k2_x,c_k2_y,72,10),(c_k1_x,c_k1_y,100,10),(m_l_x,m_l_y,85,5.5),(c_l_x,c_l_y,82,9),(m_n_x,m_n_y,85,5.5),(c_n_x,c_n_y,82,9),(m_c_x,m_c_y,285,5.5),(c_m_x,c_m_y,290,8),
 (m_p_x,m_p_y,58,5.5),(c_p_x,c_p_y,62,10),(m_q_x,m_q_y,42,5.5),(c_q_x,c_q_y,42,9),(m_e_x,m_e_y,48,5),(c_r_x,c_r_y,58,8),(c_s_x,c_s_y,78,7),
 (d_cyan_x,d_cyan_y,262,3.6),(d_lpale_x,d_lpale_y,175,3.6),(d_blue_x,d_blue_y,318,3.6),(d_tan_x,d_tan_y,118,3.6),
 (d_br_x,d_br_y,65,3.6),(d_red_x,d_red_y,28,3.6),(d_blue2_x,d_blue2_y,335,3.6),(d_ol_x,d_ol_y,85,3.6),(d_tan2_x,d_tan2_y,100,3.6),
 (d_bl3_x,d_bl3_y,278,3.6),(d_sep_x,d_sep_y,48,3.4),(d_east_x,d_east_y,50,3.4),(d_plume_x,d_plume_y,40,3.4),(d_tl_x,d_tl_y,215,3.4),
 (d_or_x,d_or_y,58,3),(d_ot_x,d_ot_y,112,3),(d_op_x,d_op_y,170,3),(d_ob_x,d_ob_y,320,3),(d_oc_x,d_oc_y,235,3),
]

fig = go.Figure()
for i,(x,y,az,s) in enumerate(sets):
    n = min(len(x),len(y))
    m = dict(size=s,color=[az]*n,colorscale=ramp,cmin=0,cmax=360,line=dict(width=0))
    if i==0:
        m.update(showscale=True,colorbar=dict(
            lenmode="pixels",len=472,thicknessmode="pixels",thickness=44,x=1.0476,xanchor="left",xpad=0,
            y=0.5,yanchor="middle",ypad=0,outlinewidth=3,outlinecolor="black",
            ticks="outside",ticklen=14,tickwidth=1.5,tickcolor="black",tickmode="array",
            tickvals=[0,60,120,180,240,300,360],tickfont=dict(size=33.4,color="black")))
    fig.add_trace(go.Scatter(x=x[:n],y=y[:n],mode="markers",marker=m,showlegend=False,hoverinfo="skip"))

for w,c,d in [(1.5,"#999999","solid"),(3,"#666666","7px,6px")]:
    fig.add_trace(go.Scatter(x=[0,180],y=[0,0],mode="lines",line=dict(color=c,width=w,dash=d),showlegend=False,hoverinfo="skip"))

ax = dict(showgrid=False,zeroline=False,showline=True,linecolor="black",linewidth=3,mirror="ticks",ticks="outside",automargin=False,
          ticklen=12,tickwidth=1.5,tickcolor="black",tickfont=dict(size=33.4,color="black"))
fig.update_xaxes(range=[0,180],tickvals=[0,20,40,60,80,100,120,140,160,180],ticklabelstandoff=-7,
    minor=dict(dtick=10,ticks="outside",ticklen=6,tickwidth=1.5,tickcolor="black",showgrid=False),
    title=dict(text="Epicentre distance (degrees)",font=dict(size=33.4,color="black"),standoff=30),**ax)
fig.update_yaxes(range=[-20,20],tickvals=[-20,-15,-10,-5,0,5,10,15,20],ticklabelstandoff=4,
    minor=dict(dtick=1,ticks="outside",ticklen=6,tickwidth=1.5,tickcolor="black",showgrid=False),
    title=dict(text="Residual (seconds)",font=dict(size=33.4,color="black"),standoff=16),**ax)
fig.update_layout(width=1600,height=1168,autosize=False,margin=dict(l=136,r=224,t=113,b=110),
    paper_bgcolor="white",plot_bgcolor="white",font=dict(family="Liberation Sans",color="black"),
    title=dict(text="Phase Residuals by distance to the event (P Pn Pg Pb)",font=dict(size=41.6,color="black"),
               x=0.4719,xanchor="center",y=0.984,yanchor="middle"),
    annotations=[dict(text="Station to event azimuth",xref="paper",yref="paper",x=1.170,y=0.5,xanchor="center",yanchor="middle",
                      textangle=-90,showarrow=False,font=dict(size=33.4,color="black"))])
fig.write_html("out.html", config=dict(displayModeBar=False),
               post_script="document.body.style.margin='0';document.documentElement.style.overflow='hidden';")
